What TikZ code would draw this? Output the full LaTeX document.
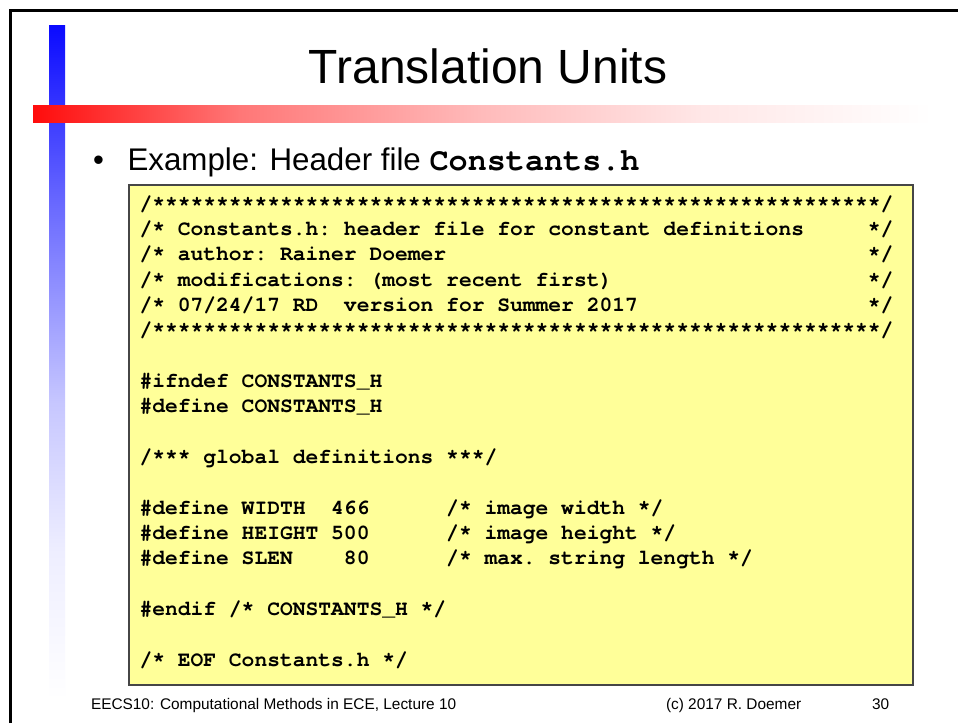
\documentclass[tikz,border=0pt]{standalone}
\usepackage{fontspec}
\setmainfont{Liberation Sans}
\newfontfamily\codefont{texgyrecursor-bold.otf}[Ligatures={NoCommon,NoRequired,NoContextual}]
\definecolor{codebg}{RGB}{255,255,153}
\definecolor{boxline}{RGB}{70,70,70}
\definecolor{barblue}{RGB}{10,10,255}
\definecolor{barred}{RGB}{255,12,12}
\pgfdeclarehorizontalshading{redbar}{100bp}{color(0bp)=(barred); color(25bp)=(barred); color(36.5bp)=(barred!56!white); color(50bp)=(barred!28!white); color(62.2bp)=(barred!10!white); color(75bp)=(white); color(100bp)=(white)}
\pgfdeclareverticalshading{bluebar}{100bp}{color(0bp)=(white); color(25bp)=(white); color(36bp)=(barblue!7!white); color(47bp)=(barblue!23!white); color(62bp)=(barblue!62!white); color(75bp)=(barblue); color(100bp)=(barblue)}
\newlength\cw
\setlength\cw{12.78pt}
\newcommand\pad[1]{\hspace*{#1\cw}}
\begin{document}
\begin{tikzpicture}[x=1pt,y=-1pt,
  txt/.style={anchor=base west, inner sep=0pt, outer sep=0pt},
  codeline/.style={txt, font=\codefont\fontsize{21.3}{25}\selectfont\frenchspacing},
  codebox/.style={draw=boxline, line width=1.4pt, fill=codebg, inner sep=0pt, minimum width=784pt, minimum height=500pt},
  foot/.style={txt, font=\fontsize{15.4}{18}\selectfont}]
\useasboundingbox (0,0) rectangle (958,723);
\fill[white] (0,0) rectangle (958,723);
% slide frame
\draw[line width=2.4pt] (10.5,723) -- (10.5,10.5) -- (958,10.5);
% decorative bars
\shade[shading=bluebar] (49,25) rectangle (65,700);
\shade[shading=redbar] (33,105) rectangle (932,122);
% title
\node[anchor=base, inner sep=0pt] (title) at (488,83) {\fontsize{48}{58}\selectfont Translation Units};
% bullet line
\node[txt] (bul) at (93,170) {\fontsize{31}{37}\selectfont\textbullet};
\node[txt] (ex) at (127.5,170) {\fontsize{31.3}{37}\selectfont Example: Header file {\codefont\fontsize{31.8}{37}\selectfont Constants.h}};
% code box
\node[codebox] (box) at (521,435) {};
\node[codeline] (c0) at (139.5,210) {/*********************************************************/};
\node[codeline] (c1) at (139.5,235.3) {/* Constants.h: header file for constant definitions\pad{5}*/};
\node[codeline] (c2) at (139.5,260.7) {/* author: Rainer Doemer\pad{33}*/};
\node[codeline] (c3) at (139.5,286) {/* modifications: (most recent first)\pad{20}*/};
\node[codeline] (c4) at (139.5,311.3) {/* 07/24/17 RD\pad{2}version for Summer 2017\pad{18}*/};
\node[codeline] (c5) at (139.5,336.7) {/*********************************************************/};
\node[codeline] (c7) at (139.5,387.3) {\#ifndef CONSTANTS\_H};
\node[codeline] (c8) at (139.5,412.7) {\#define CONSTANTS\_H};
\node[codeline] (c10) at (139.5,463.3) {/*** global definitions ***/};
\node[codeline] (c12) at (139.5,514) {\#define WIDTH\pad{2}466\pad{6}/* image width */};
\node[codeline] (c13) at (139.5,539.3) {\#define HEIGHT 500\pad{6}/* image height */};
\node[codeline] (c14) at (139.5,564.7) {\#define SLEN\pad{4}80\pad{6}/* max. string length */};
\node[codeline] (c16) at (139.5,615.3) {\#endif /* CONSTANTS\_H */};
\node[codeline] (c18) at (139.5,666) {/* EOF Constants.h */};
% footer
\node[foot] (f1) at (91,709) {EECS10: Computational Methods in ECE, Lecture 10};
\node[foot] (f2) at (666,709) {(c) 2017 R. Doemer};
\node[foot] (f3) at (872,709) {30};
\end{tikzpicture}
\end{document}
